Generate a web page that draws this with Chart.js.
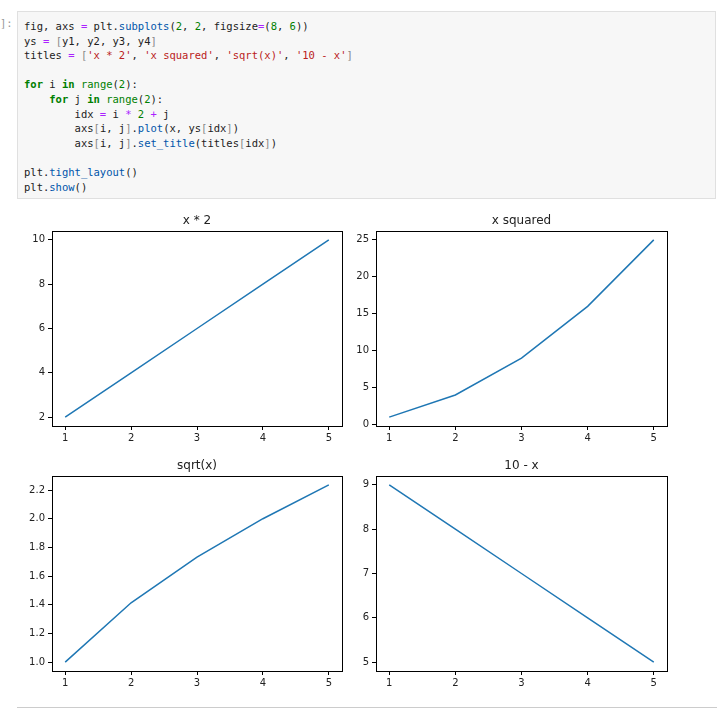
<!DOCTYPE html>
<html><head><meta charset="utf-8">
<script src="https://cdn.jsdelivr.net/npm/chart.js@4"></script>
<style>
body{margin:0;background:#fff;width:717px;height:712px;position:relative;overflow:hidden;font-family:"DejaVu Sans"}
#prompt{position:absolute;left:0;top:17px;font:10.5px "DejaVu Sans Mono";color:#999}
#code{position:absolute;left:17px;top:11px;width:699px;height:188px;background:#f7f7f7;border:1px solid #e0e0e0;box-sizing:border-box;padding:7px 0 0 6px;font:10.5px "DejaVu Sans Mono";line-height:14.6px;white-space:pre;color:#222}
.k{color:#008000;font-weight:bold}.n{color:#008000}.s{color:#ba2121}.o{color:#aa22ff}.f{color:#0055aa}.b{color:#888}
canvas{position:absolute}
#bot{position:absolute;left:17px;top:707px;width:700px;border-top:1px solid #ccc}
</style></head><body>
<div id="prompt">]:</div>
<div id="code">fig, axs <span class="o">=</span> plt.<span class="f">subplots</span>(<span class="n">2</span>, <span class="n">2</span>, figsize<span class="o">=</span>(<span class="n">8</span>, <span class="n">6</span>))
ys <span class="o">=</span> <span class="b">[</span>y1, y2, y3, y4<span class="b">]</span>
titles <span class="o">=</span> <span class="b">[</span><span class="s">'x * 2'</span>, <span class="s">'x squared'</span>, <span class="s">'sqrt(x)'</span>, <span class="s">'10 - x'</span><span class="b">]</span>

<span class="k">for</span> i <span class="k">in</span> <span class="n">range</span>(<span class="n">2</span>):
    <span class="k">for</span> j <span class="k">in</span> <span class="n">range</span>(<span class="n">2</span>):
        idx <span class="o">=</span> i <span class="o">*</span> <span class="n">2</span> <span class="o">+</span> j
        axs<span class="b">[</span>i, j<span class="b">]</span>.<span class="f">plot</span>(x, ys<span class="b">[</span>idx<span class="b">]</span>)
        axs<span class="b">[</span>i, j<span class="b">]</span>.<span class="f">set_title</span>(titles<span class="b">[</span>idx<span class="b">]</span>)

plt.<span class="f">tight_layout</span>()
plt.<span class="f">show</span>()</div>
<canvas id="c0"></canvas><canvas id="c1"></canvas><canvas id="c2"></canvas><canvas id="c3"></canvas>
<div id="bot"></div>
<script>
const xs = [1, 2, 3, 4, 5];
const y1 = [2, 4, 6, 8, 10];
const y2 = [1, 4, 9, 16, 25];
const y3 = [1, 1.414, 1.732, 2, 2.236];
const y4 = [9, 8, 7, 6, 5];
const titles = ['x * 2', 'x squared', 'sqrt(x)', '10 - x'];
const yTicks = [[2,4,6,8,10],[0,5,10,15,20,25],[1.0,1.2,1.4,1.6,1.8,2.0,2.2],[5,6,7,8,9]];
const yDec = [0,0,1,0];
const ys = [y1, y2, y3, y4];

const lefts=[0,324], tops=[205,450], W=350, H=245;
const boxPlug={id:'box',afterDraw(c){const a=c.chartArea,x=c.ctx;x.save();x.strokeStyle='#000';x.lineWidth=1;x.strokeRect(Math.round(a.left)+0.5,Math.round(a.top)+0.5,Math.round(a.width),Math.round(a.height));
x.fillStyle='#222';x.font='12px "DejaVu Sans"';x.textAlign='center';x.textBaseline='alphabetic';x.fillText(c.options.plugins.myTitle,(a.left+a.right)/2,a.top-7);x.restore();}};
for(let k=0;k<4;k++){
  const i=Math.floor(k/2), j=k%2;
  const cv=document.getElementById('c'+k);
  const yAxisW = j===0?52:52;
  cv.style.left=(j===0?0:lefts[1])+'px'; cv.style.top=tops[i]+'px';
  cv.style.width=W+'px'; cv.style.height=H+'px';
  const d=ys[k], mn=Math.min(...d), mx=Math.max(...d), m=(mx-mn)*0.05;
  new Chart(cv,{type:'line',
    data:{datasets:[{data:xs.map((v,n)=>({x:v,y:d[n]})),borderColor:'#1f77b4',borderWidth:1.5,pointRadius:0,tension:0,fill:false}]},
    options:{responsive:false,animation:false,devicePixelRatio:1,
      layout:{padding:{top:26,right:j===0?8:(W-343-0)}},
      plugins:{legend:{display:false},tooltip:{enabled:false},myTitle:titles[k]},
      scales:{
        x:{type:'linear',min:0.8,max:5.2,afterFit(s){s.height=24;},
          afterBuildTicks(s){s.ticks=xs.map(v=>({value:v}));},
          grid:{drawOnChartArea:false,color:'#000',tickLength:4},border:{display:false},
          ticks:{color:'#222',font:{family:'DejaVu Sans',size:10},padding:2,maxRotation:0,callback:v=>String(v)}},
        y:{type:'linear',min:mn-m,max:mx+m,afterFit(s){s.width=yAxisW;},
          afterBuildTicks(s){s.ticks=yTicks[k].map(v=>({value:v}));},
          grid:{drawOnChartArea:false,color:'#000',tickLength:4},border:{display:false},
          ticks:{color:'#222',font:{family:'DejaVu Sans',size:10},padding:3,callback:v=>Number(v).toFixed(yDec[k])}}
      }},plugins:[boxPlug]});
}
</script>
</body></html>
